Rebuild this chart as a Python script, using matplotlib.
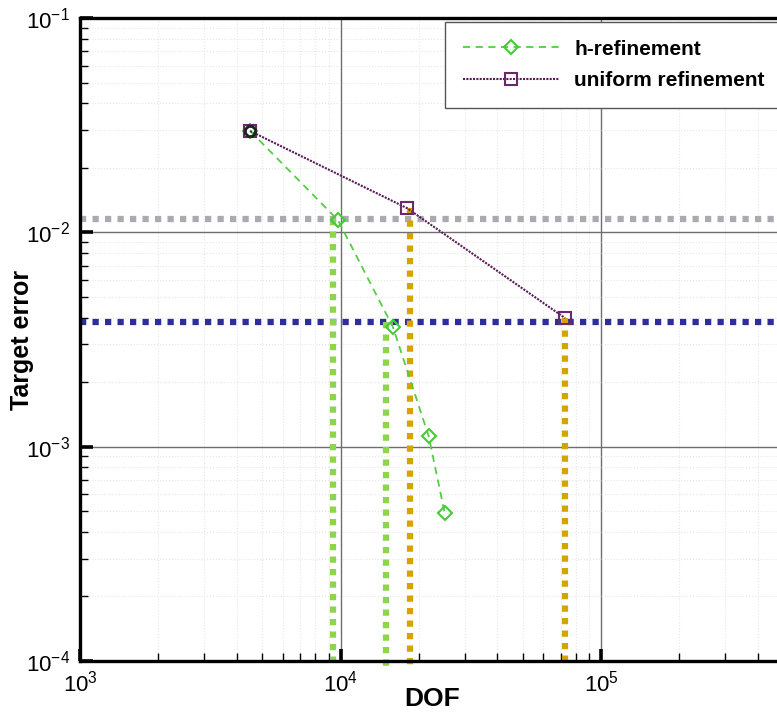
import matplotlib
matplotlib.use("Agg")
import matplotlib.pyplot as plt
from matplotlib.ticker import LogLocator

plt.rcParams['font.family'] = ['Liberation Sans', 'DejaVu Sans']
plt.rcParams['mathtext.fontset'] = 'custom'
plt.rcParams['mathtext.rm'] = 'Liberation Sans'
plt.rcParams['mathtext.it'] = 'Liberation Sans:italic'
plt.rcParams['mathtext.bf'] = 'Liberation Sans:bold'

# data
h_dof = [4500, 9780, 15900, 21800, 25100]
h_err = [0.0297, 0.0114, 0.00361, 0.00112, 0.000492]
u_dof = [4500, 18000, 72800]
u_err = [0.0297, 0.01297, 0.00398]

tol_levels = [0.01154, 0.00381]
tol_colors = ['#a9abb0', '#2e2e98']
v_dof = [9390, 15000, 18500, 72800]
v_top = [0.01154, 0.00381, 0.01297, 0.00398]
v_colors = ['#8ed54e', '#8ed54e', '#d6a400', '#d6a400']

xmin, xmax = 1e3, 10 ** 5.7255
ymin, ymax = 1e-4, 1e-1

fig = plt.figure(figsize=(7.77, 7.12), dpi=100)
ax = fig.add_axes([80 / 777, 51 / 712, 710 / 777, 643 / 712])
ax.set_xscale('log')
ax.set_yscale('log')
ax.set_xlim(xmin, xmax)
ax.set_ylim(ymin, ymax)

# grids
ax.grid(which='major', color='#6e6e6e', lw=1.0, ls='-', zorder=0)
ax.grid(which='minor', color='#e6e6e6', lw=0.8, ls=':', zorder=0)

# tolerance lines
for lev, c in zip(tol_levels, tol_colors):
    ax.plot([xmin, xmax], [lev, lev], color=c, lw=4.5, ls=(0, (1, 1)), zorder=2,
            dash_capstyle='butt')
for xd, yt, c in zip(v_dof, v_top, v_colors):
    ax.plot([xd, xd], [yt, 10 ** -4.03], color=c, lw=4.5, ls=(0, (1, 1)), zorder=2,
            dash_capstyle='butt', clip_on=False)

ax.plot(h_dof, h_err, color='#55cc44', ls=(0, (4, 3)), lw=1.3, marker='D', ms=7,
        mfc='none', mec='#44cc33', mew=1.5, label='h-refinement', zorder=4)
ax.plot(u_dof, u_err, color='#5a1a5a', ls=(0, (1, 0.6)), lw=1.5, marker='s', ms=8,
        mfc='none', mec='#6a2a6a', mew=1.5, label='uniform refinement', zorder=4)
ax.plot(h_dof[:1], h_err[:1], ls='none', marker='8', ms=8, mfc='none', mec='#222222',
        mew=2, zorder=5)

# spines and ticks
for s in ['left', 'bottom', 'top']:
    ax.spines[s].set_linewidth(2.4)
ax.spines['right'].set_visible(False)
ax.tick_params(which='both', direction='in', top=False, right=False)
ax.tick_params(which='major', length=9, width=2.6, labelsize=16, pad=7)
ax.tick_params(which='minor', length=6, width=1.0)
ax.xaxis.set_minor_locator(LogLocator(base=10, subs=range(2, 10)))
ax.yaxis.set_minor_locator(LogLocator(base=10, subs=range(2, 10)))

ax.set_xlabel('DOF', fontsize=19, fontweight='bold')
ax.xaxis.set_label_coords((432 - 80) / 710, (661 - 699) / 643)
ax.xaxis.label.set_va('center')
ax.set_ylabel('Target error', fontsize=18, fontweight='bold')
ax.yaxis.set_label_coords((22 - 80) / 710, 0.5)
ax.yaxis.label.set_va('center')

leg = ax.legend(loc='upper left', bbox_to_anchor=(445 / 777, 1 - 22 / 712),
                bbox_transform=fig.transFigure, frameon=True, borderaxespad=0,
                fancybox=False, edgecolor='#555555', framealpha=1,
                handlelength=4.6, handletextpad=0.75, borderpad=0.85,
                labelspacing=0.6, prop={'weight': 'bold', 'size': 15})
leg.get_frame().set_linewidth(1.0)

fig.savefig('out.png', dpi=100)
